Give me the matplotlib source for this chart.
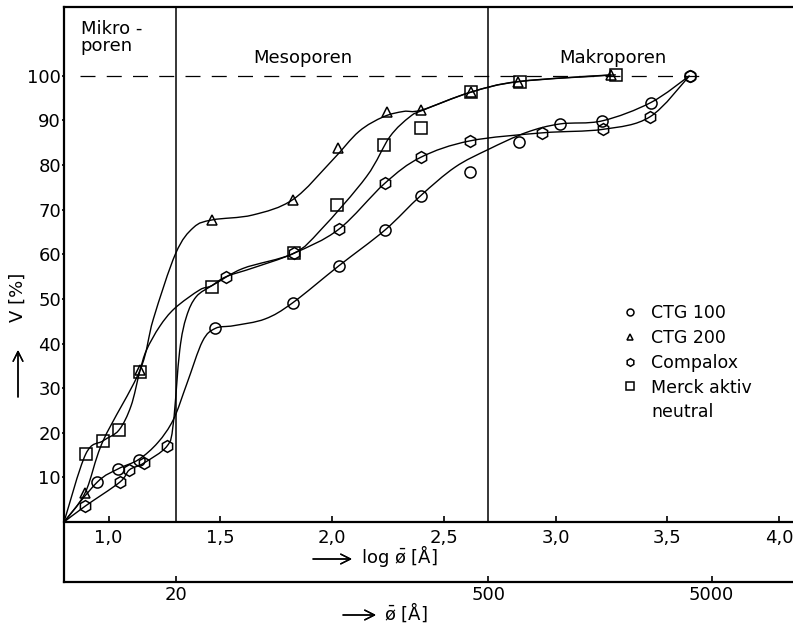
import numpy as np
import matplotlib
matplotlib.use("Agg")
import matplotlib.pyplot as plt
from matplotlib.path import Path
from matplotlib.patches import PathPatch
from matplotlib.lines import Line2D

plt.rcParams['font.family'] = ['DejaVu Sans']
plt.rcParams['mathtext.fontset'] = 'dejavusans'
plt.rcParams['mathtext.default'] = 'regular'

# measured points (log of pore diameter, cumulative pore volume in %)
ctg100_x = [0.948, 1.042, 1.134, 1.478, 1.823, 2.03, 2.236, 2.396, 2.617, 2.836, 3.02, 3.21, 3.427, 3.60]
ctg100_y = [8.9, 11.9, 14.0, 43.4, 49.1, 57.4, 65.4, 73.1, 78.5, 85.2, 89.2, 89.9, 94.0, 100.0]
ctg200_x = [0.895, 1.14, 1.464, 1.826, 2.027, 2.244, 2.40, 2.62, 2.833, 3.25]
ctg200_y = [6.6, 34.0, 67.7, 72.1, 83.7, 91.9, 92.3, 96.3, 98.7, 100.2]
compalox_x = [0.896, 1.049, 1.093, 1.157, 1.261, 1.527, 1.828, 2.03, 2.236, 2.396, 2.617, 2.94, 3.214, 3.423, 3.60]
compalox_y = [3.6, 8.9, 11.7, 13.2, 17.0, 55.0, 60.2, 65.6, 75.9, 81.7, 85.4, 87.2, 88.0, 90.8, 100.0]
merck_x = [0.897, 0.975, 1.046, 1.139, 1.463, 1.828, 2.024, 2.233, 2.40, 2.62, 2.84, 3.27]
merck_y = [15.2, 18.2, 20.6, 33.7, 52.7, 60.2, 71.0, 84.5, 88.2, 96.3, 98.7, 100.2]

# hand-drawn fit curves, traced along their course
ctg100_cx = [0.80, 0.948, 1.042, 1.134, 1.22, 1.29, 1.35, 1.42, 1.478, 1.56, 1.70, 1.823, 2.03, 2.236,
             2.396, 2.55, 2.70, 2.87, 3.02, 3.21, 3.427, 3.60]
ctg100_cy = [0.0, 8.9, 11.9, 14.0, 17.8, 23.0, 31.0, 40.5, 43.4, 44.0, 45.5, 49.1, 57.4, 65.4,
             73.1, 79.5, 83.5, 87.3, 89.2, 89.9, 94.0, 100.0]
ctg200_cx = [0.80, 0.895, 0.975, 1.14, 1.20, 1.30, 1.38, 1.464, 1.645, 1.826, 2.0, 2.12,
             2.23, 2.32, 2.40, 2.62, 2.833, 3.25]
ctg200_cy = [0.0, 6.6, 18.2, 34.0, 45.5, 60.2, 66.0, 67.7, 68.8, 72.3, 81.0, 87.5,
             90.8, 92.0, 92.3, 96.3, 98.7, 100.2]
compalox_cx = [0.80, 0.896, 1.049, 1.093, 1.157, 1.261, 1.289, 1.318, 1.348, 1.392, 1.463, 1.527, 1.65,
               1.828, 2.03, 2.236, 2.396, 2.617, 2.94, 3.214, 3.423, 3.60]
compalox_cy = [0.0, 3.6, 8.9, 11.7, 13.2, 17.0, 22.0, 38.5, 46.0, 50.5, 53.0, 55.0, 57.0,
               60.2, 65.6, 75.9, 81.7, 85.4, 87.2, 88.0, 90.8, 100.0]
merck_cx = [0.80, 0.897, 0.975, 1.046, 1.10, 1.139, 1.169, 1.228, 1.296, 1.407, 1.463, 1.60, 1.828,
            1.95, 2.154, 2.258, 2.348, 2.408, 2.62, 2.84, 3.27]
merck_cy = [0.0, 15.2, 18.2, 20.6, 26.0, 33.7, 38.5, 43.8, 47.9, 52.0, 53.0, 56.8, 60.2,
            65.5, 77.4, 86.3, 90.8, 92.3, 96.3, 98.7, 100.2]

log_ticks = [1.0, 1.5, 2.0, 2.5, 3.0, 3.5, 4.0]
log_ticklabels = ['1,0', '1,5', '2,0', '2,5', '3,0', '3,5', '4,0']
diam_ticks = [20, 500, 5000]
pore_bounds = [20, 500]


def smooth_curve(xs, ys):
    # Catmull-Rom spline through the traced points, drawn as cubic bezier pieces
    pts = np.column_stack([xs, ys])
    ext = np.vstack([pts[0], pts, pts[-1]])
    verts = [pts[0]]
    codes = [Path.MOVETO]
    for i in range(len(pts) - 1):
        p0, p1, p2, p3 = ext[i], ext[i + 1], ext[i + 2], ext[i + 3]
        verts += [p1 + (p2 - p0) / 6.0, p2 - (p3 - p1) / 6.0, p2]
        codes += [Path.CURVE4] * 3
    return Path(verts, codes)


def fig_xy(px, py):
    # pixel position (from top left) -> figure fraction
    return px / 793, 1 - py / 630


def arrow_label(tail, head):
    fig.add_artist(plt.annotate('', xy=fig_xy(*head), xytext=fig_xy(*tail),
                                xycoords='figure fraction', textcoords='figure fraction',
                                arrowprops=dict(arrowstyle='->,head_length=0.5,head_width=0.25',
                                                lw=1.0, color='black', mutation_scale=14,
                                                shrinkA=0, shrinkB=0)))


fig = plt.figure(figsize=(7.93, 6.30), dpi=100)
ax = fig.add_axes([64 / 793, 48 / 630, 1 - 64 / 793, 575 / 630])
ax.set_xlim(0.80, 4.063)
ax.set_ylim(-13.44, 115.4)

for side in ['left', 'top', 'bottom']:
    ax.spines[side].set_linewidth(1.6)
ax.spines['right'].set_visible(False)

# lower axis: pore diameter in Angstrom
ax.set_xticks(np.log10(diam_ticks))
ax.set_xticklabels([str(d) for d in diam_ticks])
ax.tick_params(axis='x', direction='in', length=4, width=1.2, pad=3, labelsize=13)
ax.set_yticks(range(10, 101, 10))
ax.tick_params(axis='y', direction='out', length=1.5, width=1.2, pad=0.6, labelsize=13)

# upper axis at V = 0: log of diameter
y0, y1 = ax.get_ylim()
sec = ax.secondary_xaxis((0 - y0) / (y1 - y0))
sec.set_xticks(log_ticks)
sec.set_xticklabels(log_ticklabels)
sec.tick_params(direction='in', length=4, width=1.2, pad=5, labelsize=13)
sec.spines['bottom'].set_linewidth(1.6)

# micro / meso / macro boundaries
for b in pore_bounds:
    ax.plot([np.log10(b), np.log10(b)], [0, y1], color='black', lw=1.1)
ax.plot([0.87, 3.66], [100, 100], color='black', lw=0.9, dashes=(12, 9))

ax.text(0.875, 112.5, 'Mikro -\nporen', fontsize=13, ha='left', va='top', linespacing=0.95)
ax.text(1.869, 104, 'Mesoporen', fontsize=13, ha='center', va='center')
ax.text(3.257, 104, 'Makroporen', fontsize=13, ha='center', va='center')

curves = [
    (ctg100_cx, ctg100_cy), (ctg200_cx, ctg200_cy),
    (compalox_cx, compalox_cy), (merck_cx, merck_cy),
]
for cx, cy in curves:
    ax.add_patch(PathPatch(smooth_curve(cx, cy), fill=False, lw=1.0, ec='black'))

mk = dict(linestyle='none', mfc='none', mec='black', mew=1.1)
ax.plot(ctg100_x, ctg100_y, marker='o', ms=8, **mk)
ax.plot(ctg200_x, ctg200_y, marker='^', ms=7, **mk)
ax.plot(compalox_x, compalox_y, marker='h', ms=8.5, **mk)
ax.plot(merck_x, merck_y, marker='s', ms=8, **mk)

handles = [
    Line2D([], [], marker='o', ms=5, **mk),
    Line2D([], [], marker='^', ms=5, **mk),
    Line2D([], [], marker='h', ms=5.5, **mk),
    Line2D([], [], marker='s', ms=5.5, **mk),
    Line2D([], [], linestyle='none'),
]
labels = ['CTG 100', 'CTG 200', 'Compalox', 'Merck aktiv', 'neutral']
ax.legend(handles, labels, loc='upper left', bbox_to_anchor=(0.772, 0.484), frameon=False,
          fontsize=12.5, handlelength=0.4, handletextpad=1.0, labelspacing=0.40,
          borderpad=0, borderaxespad=0)

# axis titles with drawn arrows
fig.text(*fig_xy(18, 297), 'V [%]', rotation=90, fontsize=13, ha='center', va='center')
arrow_label((18, 397), (18, 350))
fig.text(*fig_xy(361, 556), 'log $\\bar{\u00f8}$ [\u00c5]', fontsize=13, ha='left', va='center')
arrow_label((313, 559), (352, 559))
fig.text(*fig_xy(384, 612), '$\\bar{\u00f8}$ [\u00c5]', fontsize=13, ha='left', va='center')
arrow_label((343, 615), (376, 615))

fig.savefig('out.png', dpi=100)
